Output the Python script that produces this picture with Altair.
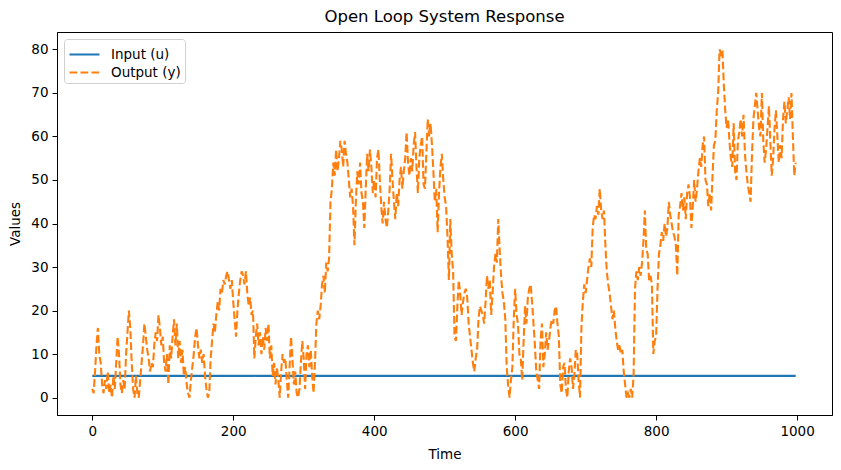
import altair as alt
import pandas as pd

# Time samples (every 2 time units) and the output
time_step = 2
times = list(range(0, 1000, time_step))

output_y = [
    2, 1, 6, 12, 16, 10, 8, 3, 1, 4, 2, 6, 1, 3, 0, 5, 2, 8, 14, 10,
    3, 1, 4, 2, 10, 15, 20, 16, 8, 2, 0, 5, 1, 0, 4, 8, 12, 17, 14, 11,
    9, 6, 8, 7, 12, 15, 13, 19, 16, 12, 14, 8, 6, 10, 3, 12, 9, 14, 18, 12,
    17, 9, 13, 8, 11, 5, 7, 3, 1, 0, 4, 7, 10, 14, 16, 12, 9, 11, 8, 10,
    5, 2, 0, 1, 9, 13, 17, 15, 19, 22, 20, 25, 24, 27, 26, 28, 29, 27, 25, 27,
    22, 18, 14, 20, 24, 27, 29, 28, 26, 29, 24, 21, 23, 19, 20, 9, 14, 17, 12, 15,
    10, 14, 11, 16, 13, 17, 9, 12, 5, 8, 3, 7, 4, 0, 6, 10, 8, 9, 4, 0,
    7, 14, 9, 3, 6, 1, 0, 2, 8, 13, 9, 2, 10, 12, 7, 11, 5, 1, 8, 17,
    20, 18, 21, 26, 28, 24, 31, 29, 32, 45, 48, 54, 51, 57, 52, 55, 59, 57, 53, 59,
    56, 54, 50, 46, 48, 44, 35, 45, 52, 49, 54, 47, 45, 39, 48, 56, 52, 57, 53, 47,
    50, 46, 55, 57, 50, 44, 40, 45, 41, 39, 43, 48, 56, 50, 45, 41, 47, 44, 50, 53,
    48, 52, 55, 61, 54, 51, 55, 52, 58, 61, 53, 47, 55, 58, 60, 49, 48, 56, 64, 60,
    63, 58, 52, 45, 48, 38, 47, 53, 56, 50, 46, 44, 37, 27, 41, 33, 29, 14, 13, 21,
    27, 24, 19, 22, 24, 25, 23, 17, 14, 11, 8, 6, 9, 11, 18, 21, 20, 19, 17, 22,
    28, 25, 27, 19, 24, 30, 33, 31, 41, 34, 28, 24, 22, 18, 7, 3, 0, 4, 7, 18,
    25, 19, 17, 10, 9, 4, 13, 21, 17, 23, 25, 26, 22, 17, 12, 6, 4, 2, 13, 17,
    7, 10, 15, 11, 13, 16, 18, 17, 20, 21, 17, 14, 3, 1, 7, 8, 2, 0, 6, 9,
    7, 2, 5, 11, 10, 4, 0, 16, 22, 26, 24, 27, 30, 32, 30, 39, 42, 41, 44, 42,
    48, 43, 41, 43, 35, 29, 26, 24, 21, 18, 20, 16, 13, 11, 12, 10, 11, 6, 3, 0,
    1, 0, 2, 0, 5, 25, 29, 27, 30, 28, 31, 36, 43, 34, 33, 27, 28, 26, 10, 13,
    14, 25, 33, 35, 38, 36, 40, 37, 39, 45, 42, 40, 38, 37, 35, 28, 42, 44, 47, 43,
    46, 41, 47, 49, 46, 39, 44, 50, 45, 48, 52, 55, 53, 58, 60, 50, 49, 44, 47, 43,
    51, 58, 59, 66, 70, 80, 79, 80, 72, 66, 62, 64, 59, 55, 53, 63, 52, 50, 59, 61,
    64, 60, 65, 56, 52, 49, 47, 45, 56, 64, 67, 70, 66, 62, 60, 70, 59, 54, 57, 62,
    67, 59, 51, 55, 62, 66, 60, 54, 58, 55, 64, 68, 63, 66, 69, 64, 70, 60, 51, 54,
]

input_u_value = 5
input_u = [input_u_value] * len(times)

series_names = ["Input (u)", "Output (y)"]
series_colors = ["#1f77b4", "#ff7f0e"]
x_ticks = [0, 200, 400, 600, 800, 1000]
y_ticks = [0, 10, 20, 30, 40, 50, 60, 70, 80]

df = pd.concat([
    pd.DataFrame({"Time": times, "Value": input_u, "Series": series_names[0], "order": 0}),
    pd.DataFrame({"Time": times, "Value": output_y, "Series": series_names[1], "order": 1}),
])

FONT = "DejaVu Sans"

chart = alt.Chart(df).mark_line(strokeWidth=2.1, clip=True).encode(
    x=alt.X("Time:Q", scale=alt.Scale(domain=[-50, 1049.5], nice=False, zero=False),
            axis=alt.Axis(values=x_ticks, title="Time", format="d")),
    y=alt.Y("Value:Q", scale=alt.Scale(domain=[-4, 84], nice=False, zero=False),
            axis=alt.Axis(values=y_ticks, title="Values", format="d")),
    color=alt.Color("Series:N", scale=alt.Scale(domain=series_names, range=series_colors),
                    legend=alt.Legend(title=None)),
    strokeDash=alt.StrokeDash("Series:N",
                              scale=alt.Scale(domain=series_names, range=[[1, 0], [7.7, 3.3]]),
                              legend=alt.Legend(title=None)),
    order=alt.Order("order:Q"),
    detail="Series:N",
).properties(
    width=775,
    height=383,
    title=alt.TitleParams("Open Loop System Response", font=FONT, fontSize=16.5,
                          fontWeight="normal", color="black", offset=7),
    autosize=alt.AutoSizeParams(type="none"),
    padding={"left": 49, "top": 24, "right": 1, "bottom": 50},
).configure_view(
    stroke="black", strokeWidth=1,
).configure_axis(
    domainColor="black", domainWidth=1, tickColor="black", tickSize=5, tickWidth=1,
    labelFont=FONT, labelFontSize=13.5, labelColor="black", labelPadding=4,
    titleFont=FONT, titleFontSize=13.5, titleColor="black", titleFontWeight="normal",
    grid=False,
).configure_axisX(titlePadding=10).configure_axisY(titlePadding=8).configure_legend(
    orient="top-left", offset=7, padding=4, strokeColor="#d0d0d0", fillColor="white",
    cornerRadius=3, labelFont=FONT, labelFontSize=13.5, labelColor="black",
    symbolType="M-1,0H2", symbolSize=400, symbolStrokeWidth=2.1, labelOffset=20,
    rowPadding=0,
)

chart.save("out.html", embed_options={"renderer": "svg", "actions": False})
